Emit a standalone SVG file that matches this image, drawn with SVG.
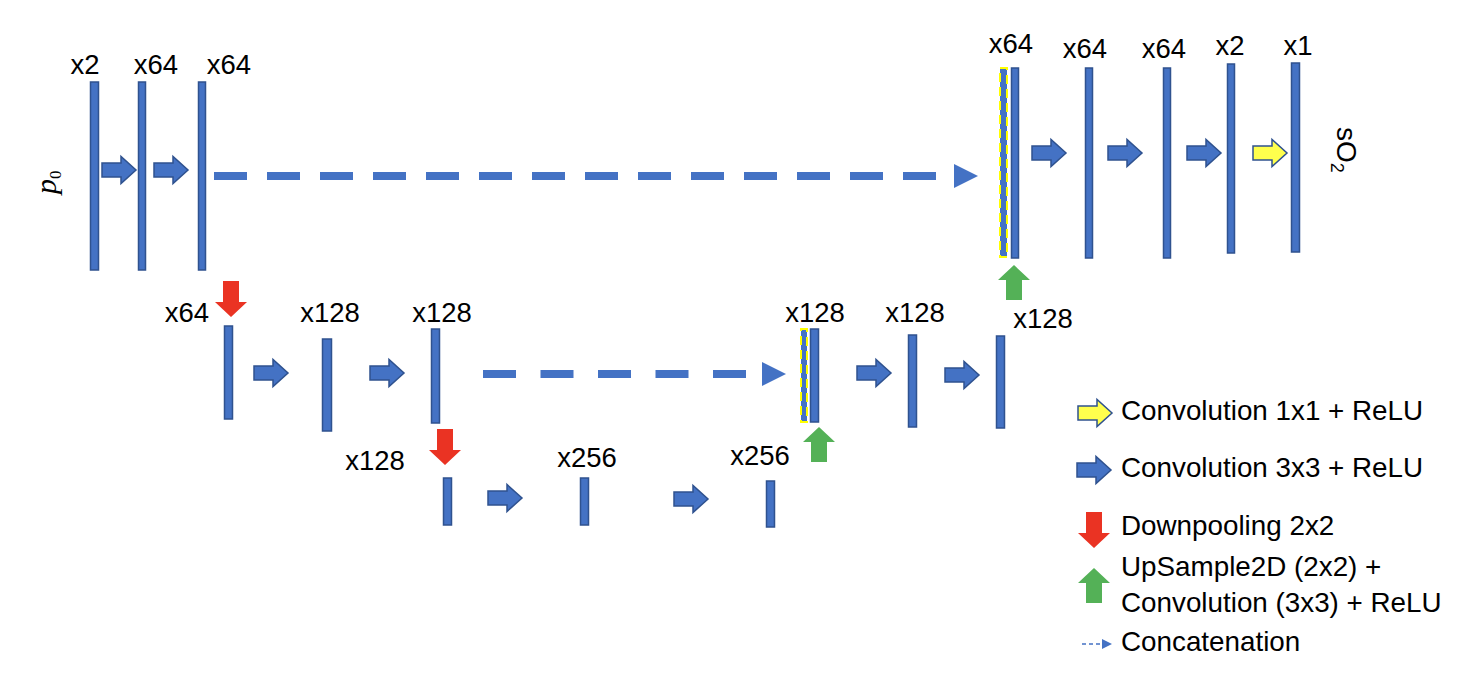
<svg xmlns="http://www.w3.org/2000/svg" xmlns:xlink="http://www.w3.org/1999/xlink" width="1482" height="688" viewBox="0 0 1482 688">
<style>
.bar{fill:#4472C4;stroke:#2F528F;stroke-width:1.5}
.cat{fill:#4472C4;stroke:#FFFF00;stroke-width:2;stroke-dasharray:9 5}
.conv{fill:#4472C4;stroke:#2F528F;stroke-width:1.5}
.conv1{fill:#FFFF4D;stroke:#2F528F;stroke-width:1.5}
.down{fill:#EA3323}
.up{fill:#54B157}
.lbl{font-family:"Liberation Sans",Arial,sans-serif;font-size:27.5px;fill:#000;text-anchor:middle}
.leg{font-family:"Liberation Sans",Arial,sans-serif;font-size:27.8px;fill:#000}
.skip{stroke:#4472C4;stroke-width:8;fill:none}
.head{fill:#4472C4}
</style>
<defs>
<path id="ra" d="M0,-7 H19 V-13.5 L34,0 L19,13.5 V7 H0 Z"/>
<path id="da" d="M8,0 H24 V21 H32 L16,36 L0,21 H8 Z"/>
<path id="ua" d="M16,0 L32,15 H24 V35 H8 V15 H0 Z"/>
</defs>
<rect width="1482" height="688" fill="#fff"/>

<g id="labels-io">
<g transform="translate(56,194) rotate(-90)"><text x="0" y="0" font-family="Liberation Serif,serif" font-size="30" fill="#000"><tspan font-style="italic">p</tspan><tspan dy="5" font-size="17">0</tspan></text></g>
<g transform="translate(1337,127) rotate(90)"><text x="0" y="0" font-family="Liberation Sans,Arial,sans-serif" font-size="28" fill="#000">sO<tspan dy="6" font-size="18">2</tspan></text></g>
</g>

<g id="n-top1"><rect class="bar" x="90.5" y="82" width="8" height="188"/><text class="lbl" x="85" y="74">x2</text></g>
<g id="n-top2"><rect class="bar" x="138.5" y="82" width="7" height="188"/><text class="lbl" x="156" y="74">x64</text></g>
<g id="n-top3"><rect class="bar" x="198.5" y="82" width="7" height="188"/><text class="lbl" x="229" y="74">x64</text></g>
<g id="n-top4"><rect class="cat" x="1000" y="68" width="7" height="189"/><rect class="bar" x="1011.5" y="68" width="7" height="190"/><text class="lbl" x="1011" y="53">x64</text></g>
<g id="n-top5"><rect class="bar" x="1085.5" y="68" width="7" height="190"/><text class="lbl" x="1085" y="58">x64</text></g>
<g id="n-top6"><rect class="bar" x="1163.5" y="68" width="7" height="190"/><text class="lbl" x="1164" y="58">x64</text></g>
<g id="n-top7"><rect class="bar" x="1227.5" y="64" width="7" height="189"/><text class="lbl" x="1230" y="55">x2</text></g>
<g id="n-top8"><rect class="bar" x="1291.5" y="63" width="8" height="189"/><text class="lbl" x="1298" y="55">x1</text></g>

<g id="n-mid1"><rect class="bar" x="224.5" y="326" width="8" height="93"/><text class="lbl" x="187" y="322">x64</text></g>
<g id="n-mid2"><rect class="bar" x="322.5" y="339" width="9" height="92"/><text class="lbl" x="330" y="322">x128</text></g>
<g id="n-mid3"><rect class="bar" x="431.5" y="329" width="8" height="94"/><text class="lbl" x="442" y="322">x128</text></g>
<g id="n-mid4"><rect class="cat" x="801" y="329" width="6" height="93"/><rect class="bar" x="810.5" y="329" width="8" height="93"/><text class="lbl" x="815" y="322">x128</text></g>
<g id="n-mid5"><rect class="bar" x="908.5" y="335" width="8" height="92"/><text class="lbl" x="915" y="322">x128</text></g>
<g id="n-mid6"><rect class="bar" x="996.5" y="336" width="8" height="92"/><text class="lbl" x="1043" y="328">x128</text></g>

<g id="n-bot1"><rect class="bar" x="443.5" y="478" width="8" height="47"/><text class="lbl" x="375" y="470">x128</text></g>
<g id="n-bot2"><rect class="bar" x="580.5" y="478" width="8" height="47"/><text class="lbl" x="587" y="467">x256</text></g>
<g id="n-bot3"><rect class="bar" x="766.5" y="481" width="8" height="46"/><text class="lbl" x="760" y="465">x256</text></g>

<g id="connectors">
<use href="#ra" class="conv" transform="translate(102,170)"/>
<use href="#ra" class="conv" transform="translate(154,170)"/>
<use href="#ra" class="conv" transform="translate(1032,153)"/>
<use href="#ra" class="conv" transform="translate(1108,153)"/>
<use href="#ra" class="conv" transform="translate(1187,153)"/>
<use href="#ra" class="conv1" transform="translate(1253,153)"/>
<use href="#ra" class="conv" transform="translate(254,373)"/>
<use href="#ra" class="conv" transform="translate(370,373)"/>
<use href="#ra" class="conv" transform="translate(857,373)"/>
<use href="#ra" class="conv" transform="translate(945,375)"/>
<use href="#ra" class="conv" transform="translate(488,498)"/>
<use href="#ra" class="conv" transform="translate(674,499)"/>
<use href="#da" class="down" transform="translate(215,281)"/>
<use href="#da" class="down" transform="translate(429,429)"/>
<use href="#ua" class="up" transform="translate(998,265)"/>
<use href="#ua" class="up" transform="translate(803,427)"/>
<line class="skip" x1="214" y1="176" x2="936" y2="176" stroke-dasharray="33 20"/>
<polygon class="head" points="954,164 978,176 954,188"/>
<line class="skip" x1="483" y1="374" x2="746" y2="374" stroke-dasharray="33 24.5"/>
<polygon class="head" points="762,362 786,374 762,386"/>
</g>

<g id="legend">
<use href="#ra" class="conv1" transform="translate(1078,413)"/>
<text class="leg" x="1121" y="420">Convolution 1x1 + ReLU</text>
<use href="#ra" class="conv" transform="translate(1077,470)"/>
<text class="leg" x="1121" y="477">Convolution 3x3 + ReLU</text>
<use href="#da" class="down" transform="translate(1078,512)"/>
<text class="leg" x="1121" y="535">Downpooling 2x2</text>
<use href="#ua" class="up" transform="translate(1078,568)"/>
<text class="leg" x="1121" y="576">UpSample2D (2x2) +</text>
<text class="leg" x="1121" y="612">Convolution (3x3) + ReLU</text>
<line x1="1082" y1="644" x2="1103" y2="644" stroke="#4472C4" stroke-width="1.5" stroke-dasharray="4 3"/>
<polygon class="head" points="1102,639 1112,644 1102,649"/>
<text class="leg" x="1121" y="651">Concatenation</text>
</g>
</svg>
